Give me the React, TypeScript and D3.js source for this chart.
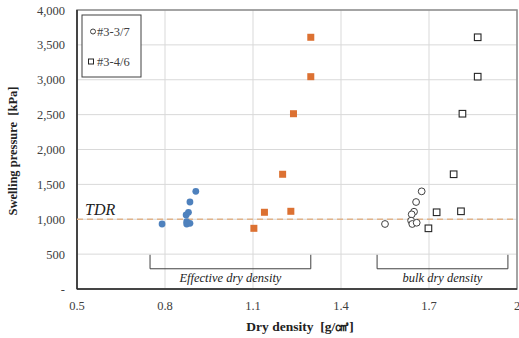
import React from 'react';
import * as d3 from 'd3';

const effCircleX = [0.79, 0.905, 0.885, 0.88, 0.872, 0.874, 0.874, 0.885];
const effCircleY = [932, 1400, 1247, 1100, 1061, 965, 932, 942];
const bulkCircleX = [1.55, 1.675, 1.656, 1.649, 1.641, 1.639, 1.643, 1.658];
const bulkCircleY = [932, 1400, 1247, 1108, 1070, 980, 932, 950];
const effSquareX = [1.297, 1.297, 1.238, 1.201, 1.139, 1.229, 1.103];
const bulkSquareX = [1.866, 1.866, 1.814, 1.784, 1.726, 1.809, 1.698];
const squareY = [3609, 3044, 2513, 1645, 1100, 1114, 870];

const xTicks = [0.5, 0.8, 1.1, 1.4, 1.7, 2.0];
const yTicks = [0, 500, 1000, 1500, 2000, 2500, 3000, 3500, 4000];
const tdrValue = 1000;
const legendLabels = ['#3-3/7', '#3-4/6'];
const bracketRanges = [[0.749, 1.297], [1.523, 1.969]];
const bracketLabels = ['Effective dry density', 'bulk dry density'];

const W = 519;
const H = 338;
const margin = { top: 10, right: 2, bottom: 49, left: 77 };

const serif = { fontFamily: "'Liberation Serif', 'Times New Roman', Times, serif" };

const App = () => {
  const x = d3.scaleLinear().domain([0.5, 2.0]).range([margin.left, W - margin.right]);
  const y = d3.scaleLinear().domain([0, 4000]).range([H - margin.bottom, margin.top]);

  const x0 = x(0.5);
  const x1 = x(2.0);
  const y0 = y(0);
  const y1 = y(4000);

  const fmtX = (v: number) => (v === 2 ? '2' : d3.format('.1f')(v));
  const fmtY = (v: number) => (v === 0 ? '-' : d3.format(',')(v));

  // bracket under each group of points
  const bracket = (a: number, b: number, label: string, k: number) => {
    const top = y(490);
    const bot = y(290);
    return (
      <g key={'br' + k}>
        <path d={`M${x(a)},${top}V${bot}H${x(b)}V${top}`} fill="none" stroke="#404040" strokeWidth={1} />
        <text x={(x(a) + x(b)) / 2} y={y(100)} textAnchor="middle" style={serif}
          fontStyle="italic" fontSize={12.5} fill="#222">{label}</text>
      </g>
    );
  };

  return (
    <svg width={W} height={H} style={{ position: 'absolute', left: 0, top: 0, background: '#fff' }}>
      {/* gridlines */}
      {yTicks.map(t => (
        <line key={'gy' + t} x1={x0} x2={x1} y1={y(t)} y2={y(t)} stroke="#d9d9d9" strokeWidth={1} />
      ))}
      {xTicks.map(t => (
        <line key={'gx' + t} x1={x(t)} x2={x(t)} y1={y0} y2={y1} stroke="#d9d9d9" strokeWidth={1} />
      ))}
      <rect x={x0} y={y1} width={x1 - x0} height={y0 - y1} fill="none" stroke="#8c8c8c" strokeWidth={1.5} />
      <line x1={x0} x2={x0} y1={y1} y2={y0} stroke="#262626" strokeWidth={1.5} />
      <line x1={x0} x2={x1} y1={y0} y2={y0} stroke="#262626" strokeWidth={1.5} />

      {/* TDR */}
      <line x1={x0} x2={x1} y1={y(tdrValue)} y2={y(tdrValue)} stroke="#e2b48a" strokeWidth={1.6} strokeDasharray="6,4" />
      <text x={x0 + 8} y={y(tdrValue) - 4} style={serif} fontStyle="italic" fontSize={16} fill="#222">TDR</text>

      {bracketRanges.map((r, i) => bracket(r[0], r[1], bracketLabels[i], i))}

      {/* axis labels */}
      {yTicks.map(t => (
        <text key={'ty' + t} x={65} y={y(t) + 4.5} textAnchor="end" style={serif} fontSize={12.5} fill="#404040">{fmtY(t)}</text>
      ))}
      {xTicks.map(t => (
        <text key={'tx' + t} x={x(t)} y={310} textAnchor="middle" style={serif} fontSize={12.5} fill="#404040">{fmtX(t)}</text>
      ))}
      <text x={(x0 + x1) / 2 + 3} y={331} textAnchor="middle" style={serif} fontWeight="bold" fontSize={13.5} fill="#222">
        {'Dry density\u00a0 [g/㎤]'}
      </text>
      <text transform={`translate(17,151) rotate(-90)`} textAnchor="middle" style={serif}
        fontWeight="bold" fontSize={12.5} fill="#222">{'Swelling pressure\u00a0 [kPa]'}</text>

      {/* points */}
      {effCircleX.map((v, i) => (
        <circle key={'ec' + i} cx={x(v)} cy={y(effCircleY[i])} r={3.4} fill="#4e81bd" />
      ))}
      {bulkCircleX.map((v, i) => (
        <circle key={'bc' + i} cx={x(v)} cy={y(bulkCircleY[i])} r={3.4} fill="#fff" stroke="#404040" strokeWidth={1} />
      ))}
      {effSquareX.map((v, i) => (
        <rect key={'es' + i} x={x(v) - 3.5} y={y(squareY[i]) - 3.5} width={7} height={7} fill="#dc7132" />
      ))}
      {bulkSquareX.map((v, i) => (
        <rect key={'bs' + i} x={x(v) - 3.3} y={y(squareY[i]) - 3.3} width={6.6} height={6.6} fill="#fff" stroke="#262626" strokeWidth={1.1} />
      ))}

      {/* legend */}
      <g>
        <rect x={82} y={15} width={59} height={62} fill="#fff" stroke="#404040" strokeWidth={1} />
        <circle cx={93} cy={31.5} r={2.5} fill="#fff" stroke="#404040" strokeWidth={1} />
        <text x={97} y={36} style={serif} fontSize={12.5} fill="#404040">{legendLabels[0]}</text>
        <rect x={88.5} y={59} width={5} height={5} fill="#fff" stroke="#262626" strokeWidth={1} />
        <text x={97} y={66} style={serif} fontSize={12.5} fill="#404040">{legendLabels[1]}</text>
      </g>
    </svg>
  );
};

export default App;
